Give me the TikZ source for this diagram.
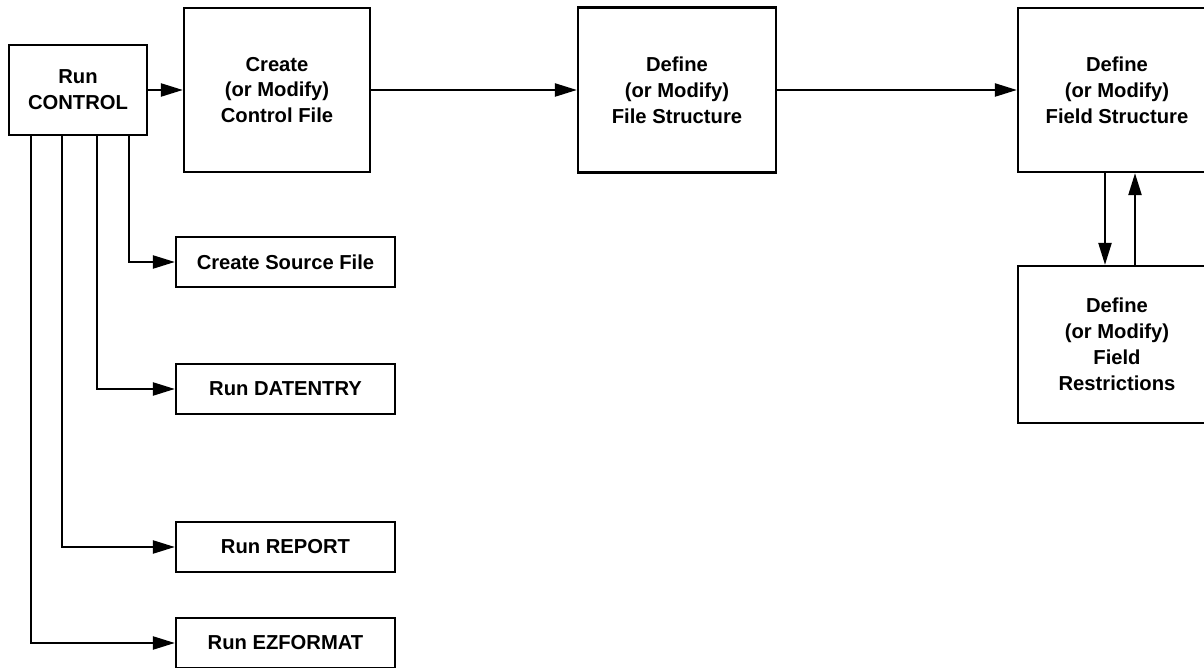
\documentclass[tikz,border=0pt]{standalone}
\usepackage{fontspec}
\setmainfont{Liberation Sans}
\usetikzlibrary{arrows.meta}
\usetikzlibrary{calc}

\begin{document}
\begin{tikzpicture}
[x=0.02cm,y=-0.02cm,>={Triangle[length=0.44cm,width=0.26cm]},line width=1.3pt,
every node/.style={draw,rectangle,align=center,inner sep=0pt,font=\bfseries\fontsize{11.5}{14.7}\selectfont},
runbox/.style={minimum width=4.38cm,minimum height=1cm}]

\useasboundingbox (0,0) rectangle (1204,668);
\clip (0,0) rectangle (1204,668);

\node[minimum width=2.76cm,minimum height=1.8cm] (ctrl) at (78,90) {Run\\CONTROL};
\node[minimum width=3.72cm,minimum height=3.28cm] (create) at (277,90) {Create\\(or Modify)\\Control File};
\node[minimum width=3.96cm,minimum height=3.3cm] (filestr) at (677,90) {Define\\(or Modify)\\File Structure};
\node[minimum width=3.96cm,minimum height=3.28cm] (fieldstr) at (1117,90) {Define\\(or Modify)\\Field Structure};
\node[minimum width=3.96cm,minimum height=3.14cm] (restr) at (1117,344.5) {Define\\(or Modify)\\Field\\Restrictions};

\node[runbox] (src) at (285.5,262) {Create Source File};
\node[runbox] (dat) at (285.5,389) {Run DATENTRY};
\node[runbox] (rep) at (285.5,547) {Run REPORT};
\node[runbox] (ez) at (285.5,643) {Run EZFORMAT};

%main line
\foreach \from/\to in {ctrl/create,create/filestr,filestr/fieldstr}
\draw[->] (\from) -- (\to);

%branches off CONTROL
\foreach \dx/\to in {121/src,89/dat,54/rep,23/ez}
\draw[->] ($(ctrl.south west)+(\dx,0)$) |- (\to);

%field restrictions
\draw[->] ($(fieldstr.south)+(-12,0)$) -- ($(restr.north)+(-12,0)$);
\draw[->] ($(restr.north)+(18,0)$) -- ($(fieldstr.south)+(18,0)$);

\end{tikzpicture}
\end{document}
